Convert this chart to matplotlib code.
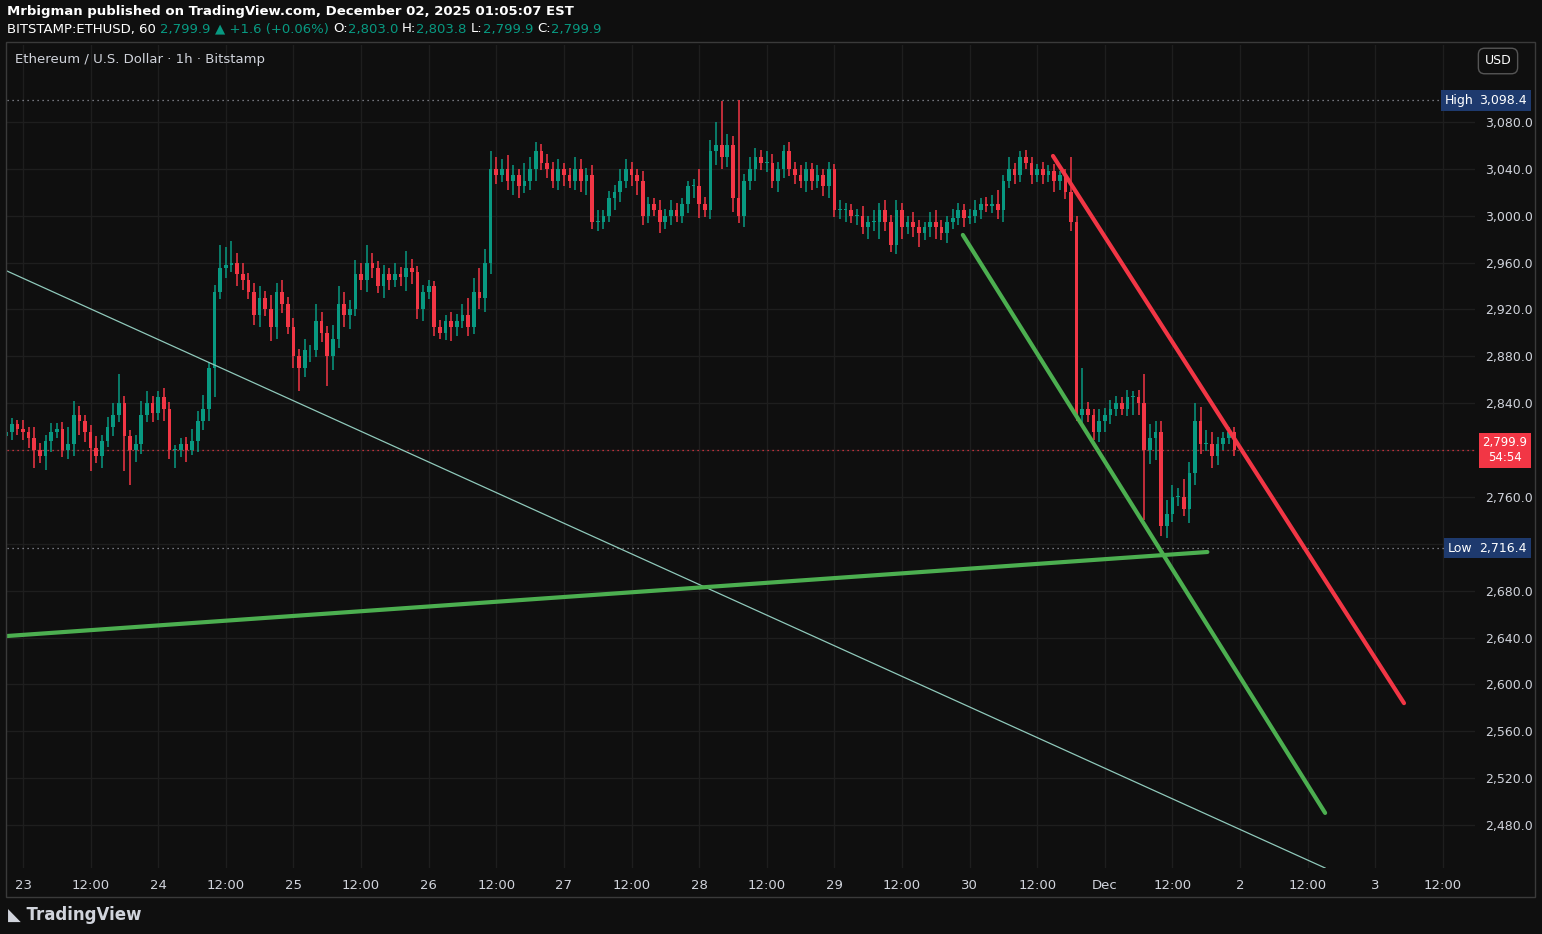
import matplotlib.pyplot as plt
import matplotlib.transforms as mtransforms
import numpy as np

# hourly closes, starting Nov 22 21:00
closes = [
    2815, 2822, 2818,
    # Nov 23
    2815, 2810, 2800, 2795, 2808, 2815, 2818, 2800, 2805, 2830, 2825, 2815,
    2802, 2795, 2808, 2820, 2830, 2840, 2812, 2800, 2805, 2830, 2840, 2832,
    # Nov 24
    2845, 2835, 2800, 2800, 2805, 2800, 2808, 2825, 2835, 2870, 2935, 2955,
    2958, 2960, 2950, 2945, 2935, 2915, 2930, 2920, 2905, 2935, 2925, 2905,
    # Nov 25
    2880, 2870, 2885, 2885, 2910, 2900, 2880, 2895, 2925, 2915, 2920, 2950,
    2945, 2960, 2955, 2940, 2950, 2945, 2950, 2948, 2955, 2952, 2920, 2935,
    # Nov 26
    2940, 2905, 2900, 2910, 2905, 2910, 2915, 2905, 2935, 2930, 2960, 3040,
    3035, 3040, 3030, 3035, 3025, 3030, 3040, 3055, 3045, 3040, 3030, 3040,
    # Nov 27
    3035, 3030, 3040, 3030, 3035, 2995, 2995, 3000, 3015, 3020, 3030, 3040,
    3035, 3030, 3000, 3010, 3005, 2995, 3000, 3005, 3000, 3010, 3025, 3025,
    # Nov 28
    3010, 3005, 3055, 3060, 3050, 3060, 3015, 3000, 3030, 3040, 3050, 3045,
    3045, 3030, 3040, 3055, 3040, 3035, 3030, 3040, 3030, 3035, 3025, 3040,
    # Nov 29
    3005, 3005, 3005, 3000, 3000, 2990, 2995, 2995, 3005, 2995, 2975, 3005,
    2990, 2995, 2990, 2985, 2990, 2995, 2990, 2985, 2995, 2998, 3005, 2998,
    # Nov 30
    3000, 3005, 3010, 3008, 3010, 3005, 3030, 3040, 3035, 3050, 3045, 3035,
    3040, 3035, 3038, 3030, 3035, 3020, 2995, 2830, 2835, 2830, 2815, 2825,
    # Dec 1
    2830, 2835, 2840, 2835, 2845, 2845, 2840, 2800, 2810, 2815, 2735, 2745,
    2760, 2760, 2750, 2780, 2825, 2805, 2805, 2795, 2805, 2810, 2815, 2800,
]
opens = [2812] + closes[:-1]
# wick lengths above / below candle body
wick_up = [
    15, 5, 4,
    8, 5, 10, 6, 5, 8, 5, 6, 15, 12, 8, 5, 6, 10, 5, 8, 10, 25, 6, 5, 8, 12, 10, 6,
    5, 8, 6, 4, 5, 6, 10, 8, 12, 5, 6, 20, 15, 18, 8, 10, 6, 8, 10, 6, 12, 8, 10, 6,
    8, 6, 10, 5, 15, 8, 6, 12, 15, 10, 8, 12, 10, 15, 8, 6, 8, 5, 10, 6, 15, 8,
    5, 6, 5, 4, 6, 5, 8, 6, 10, 15, 12, 20, 12, 15, 10, 8, 12, 8, 5, 15, 10, 8, 6, 8,
    6, 8, 5, 6, 10, 8, 6, 8, 10, 5, 6, 6, 10, 8, 6, 5, 8, 6, 5, 8, 6, 8, 6, 5,
    5, 6, 15, 6, 10, 20, 38, 10, 8, 12, 6, 10, 8, 6, 10, 8, 6, 5, 8, 6, 8, 6, 5, 8,
    5, 6, 4, 8, 6, 5, 6, 8, 5, 10, 6, 8, 6, 8, 6, 5, 8, 6, 5, 8, 10, 6, 5, 8,
    6, 5, 6, 8, 5, 6, 8, 12, 5, 10, 5, 5, 6, 5, 4, 6, 5, 6, 3, 5, 30, 5, 35, 6,
    5, 10, 6, 8, 6, 5, 6, 5, 6, 25, 12, 10, 10, 12, 10, 8, 15, 10, 15, 12, 12, 10, 6, 5,
]
wick_dn = [
    8, 6, 5,
    6, 8, 15, 6, 12, 10, 5, 6, 8, 10, 12, 8, 20, 6, 10, 5, 8, 6, 30, 30, 10, 8, 6, 8,
    6, 10, 8, 15, 6, 10, 4, 10, 8, 10, 25, 6, 8, 6, 10, 8, 6, 8, 10, 6, 12, 10, 8, 6,
    10, 20, 8, 10, 6, 8, 25, 12, 8, 10, 12, 6, 8, 10, 8, 6, 10, 8, 6, 8, 12, 10,
    8, 10, 6, 8, 5, 6, 12, 8, 6, 8, 6, 10, 12, 10, 8, 6, 8, 12, 10, 6, 8, 10, 6, 8,
    6, 8, 10, 6, 8, 10, 12, 6, 8, 6, 5, 10, 8, 6, 10, 12, 8, 6, 5, 10, 6, 8, 5, 6,
    8, 10, 12, 6, 8, 12, 10, 8, 12, 6, 10, 8, 10, 6, 8, 6, 10, 8, 6, 8, 6, 10, 8, 6,
    8, 10, 6, 8, 10, 6, 8, 6, 10, 8, 15, 8, 6, 8, 10, 6, 8, 12, 6, 8, 10, 6, 8, 6,
    6, 8, 5, 6, 8, 5, 6, 8, 10, 6, 8, 6, 5, 8, 6, 8, 6, 10, 8, 6, 8, 5, 8, 6,
    6, 8, 10, 8, 6, 5, 6, 15, 10, 60, 12, 10, 8, 10, 6, 8, 6, 12, 10, 8, 6, 10, 8, 5,
]
wick_up = (wick_up + [5] * 300)[:len(closes)]
wick_dn = (wick_dn + [5] * 300)[:len(closes)]
wick_dn[204] = 2735 - 2716.4
highs = [max(o, c) + w for o, c, w in zip(opens, closes, wick_up)]
lows = [min(o, c) - w for o, c, w in zip(opens, closes, wick_dn)]
highs[130] = 3098.4

# drawn trend lines (hour index, price)
teal_line = ([0.16, 234.1], [2952.8, 2443.3])
support_line = ([0.16, 213.2], [2641.3, 2713.0])
channel_low = ([169.8, 234.1], [2983.6, 2490.3])
channel_high = ([185.8, 248.1], [3051.0, 2584.0])

day_labels = ['23', '24', '25', '26', '27', '28', '29', '30', 'Dec', '2', '3']
price_ticks = list(range(2480, 3081, 40))
hidden_ticks = [2720, 2800]  # covered by the price tags

BG = '#0f0f0f'
UP, DN = '#089981', '#f23645'
TXT = '#d1d4dc'

fig = plt.figure(figsize=(15.42, 9.34), dpi=100, facecolor=BG)
ax = fig.add_axes([7 / 1542, 66 / 934, 1468 / 1542, 823 / 934])
ax.set_facecolor(BG)

idx = np.arange(len(closes))
for i in idx:
    col = UP if closes[i] >= opens[i] else DN
    ax.vlines(i, lows[i], highs[i], color=col, lw=1.1, zorder=3)
    lo, hi = min(opens[i], closes[i]), max(opens[i], closes[i])
    ax.bar(i, max(hi - lo, 0.8), bottom=lo, width=0.65, color=col, zorder=4)

ax.plot(*teal_line, color='#8fc9bb', lw=0.9, zorder=5)
ax.plot(*support_line, color='#4caf50', lw=3, zorder=5, solid_capstyle='round')
ax.plot(*channel_low, color='#4caf50', lw=3, zorder=5, solid_capstyle='round')
ax.plot(*channel_high, color='#f23645', lw=3, zorder=5, solid_capstyle='round')

ax.axhline(3098.4, color='#9598a1', lw=0.9, ls=(0, (1, 3)))
ax.axhline(2716.4, color='#9598a1', lw=0.9, ls=(0, (1, 3)))
ax.axhline(closes[-1], color=DN, lw=0.9, ls=(0, (1, 3)))

ax.set_xlim(0.16, 260.7)
ax.set_ylim(2443.3, 3145.7)
xt = [3 + 12 * k for k in range(22)]
ax.set_xticks(xt)
ax.set_xticklabels([day_labels[k // 2] if k % 2 == 0 else '12:00' for k in range(22)])
ax.set_yticks(price_ticks)
ax.grid(color='#1e1e1e', lw=1)
ax.set_axisbelow(True)
ax.yaxis.tick_right()
ax.set_yticklabels(['' if p in hidden_ticks else f'{p:,.1f}' for p in price_ticks])
ax.tick_params(axis='y', colors=TXT, labelsize=9, length=0, pad=7)
ax.tick_params(axis='x', colors=TXT, labelsize=9.5, length=0, pad=8)
for s in ax.spines.values():
    s.set_visible(False)

# right-side price tags (figure x, data y)
trans = mtransforms.blended_transform_factory(fig.transFigure, ax.transData)

def tag(xpix, price, text, color, size=9):
    ax.text(xpix / 1542, price, text, transform=trans, color='white', fontsize=size,
            va='center', ha='center', zorder=10, clip_on=False,
            bbox=dict(boxstyle='square,pad=0.3', fc=color, ec='none'))

tag(1503, 3098.4, '3,098.4', '#1e3a6e')
tag(1503, 2716.4, '2,716.4', '#1e3a6e')
tag(1459, 3098.4, 'High', '#1e3a6e')
tag(1460, 2716.4, 'Low', '#1e3a6e')
tag(1505, closes[-1], '2,799.9\n54:54', DN, size=8.5)

# frame and header
fig.add_artist(plt.Rectangle((6 / 1542, 37 / 934), 1529 / 1542, 855 / 934, transform=fig.transFigure,
                             fill=False, ec='#3a3a3a', lw=1))
fig.text(7 / 1542, 1 - 12 / 934, 'Mrbigman published on TradingView.com, December 02, 2025 01:05:07 EST',
         color='white', fontsize=9.5, va='center', fontweight='bold')
x0 = 7 / 1542
parts = [('BITSTAMP:ETHUSD, 60 ', 'white'), ('2,799.9 ', UP), ('\u25b2 +1.6 (+0.06%) ', UP),
         ('O:', 'white'), ('2,803.0 ', UP), ('H:', 'white'), ('2,803.8 ', UP),
         ('L:', 'white'), ('2,799.9 ', UP), ('C:', 'white'), ('2,799.9', UP)]
renderer = fig.canvas.get_renderer()
for txt, c in parts:
    t = fig.text(x0, 1 - 29 / 934, txt, color=c, fontsize=9.5, va='center')
    x0 += t.get_window_extent(renderer).width / 1542
fig.text(15 / 1542, 1 - 60 / 934, 'Ethereum / U.S. Dollar \u00b7 1h \u00b7 Bitstamp', color=TXT, fontsize=9.5, va='center')
fig.text(1498 / 1542, 1 - 61 / 934, 'USD', color='white', fontsize=9, va='center', ha='center',
         bbox=dict(boxstyle='round,pad=0.5', fc=BG, ec='#555555'))
fig.text(8 / 1542, 1 - 915 / 934, '\u25e3 TradingView', color='#d1d4dc', fontsize=12, va='center', fontweight='bold')

fig.savefig('out.png', dpi=100, facecolor=BG)
